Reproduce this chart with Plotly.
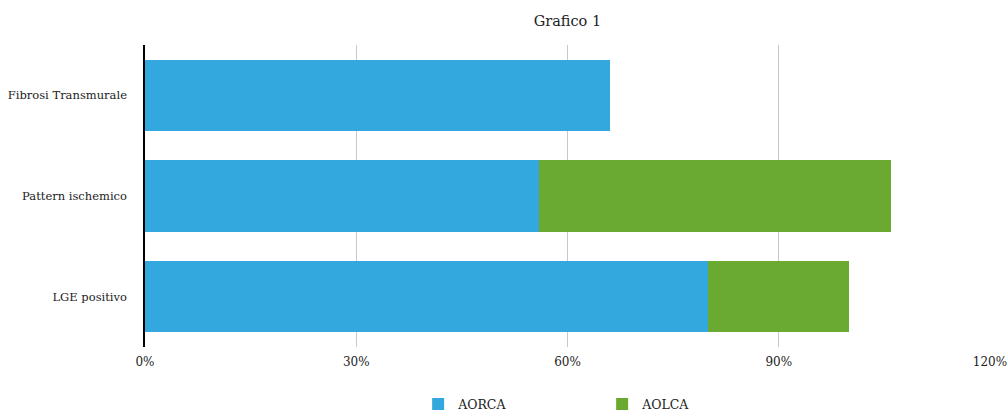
import plotly.graph_objects as go

categories = ["Fibrosi Transmurale", "Pattern ischemico", "LGE positivo"]
aorca = [66, 56, 80]
aolca = [0, 50, 20]
x_ticks = [0, 30, 60, 90, 120]
x_tick_labels = ["0%", "30%", "60%", "90%", "120%"]

font_family = "DejaVu Serif"

fig = go.Figure()
fig.add_trace(go.Bar(
    y=categories, x=aorca, name="AORCA", orientation="h",
    marker=dict(color="#33A8DE", line=dict(width=0)),
))
fig.add_trace(go.Bar(
    y=categories, x=aolca, name="AOLCA", orientation="h",
    marker=dict(color="#6AAA30", line=dict(width=0)),
))

fig.update_layout(
    barmode="stack",
    bargap=0.29,
    width=1007, height=412,
    margin=dict(l=145, r=17, t=45, b=65, autoexpand=False),
    paper_bgcolor="white", plot_bgcolor="white",
    font=dict(family=font_family, size=11.5, color="#222222"),
    title=dict(text="Grafico 1", x=0.5635, xanchor="center", y=0.95, yanchor="middle",
               font=dict(family=font_family, size=14.5, color="#222222")),
    legend=dict(orientation="h", x=0.541, xanchor="center", y=-0.19, yanchor="middle",
                traceorder="normal",
                entrywidth=139, font=dict(family=font_family, size=12.5),
                itemwidth=30),
    showlegend=True,
)
fig.update_xaxes(
    range=[0, 120], tickvals=x_ticks, ticktext=x_tick_labels,
    showgrid=True, gridcolor="#c8c8c8", gridwidth=1,
    zeroline=False, showline=False, ticks="", automargin=False,
    ticklabeloverflow="allow", tickfont=dict(size=12), ticklabelstandoff=6,
)
fig.update_yaxes(
    categoryorder="array", categoryarray=categories, autorange="reversed",
    showgrid=False, zeroline=False, showline=True, linecolor="black", linewidth=1.5,
    ticks="", ticklabelstandoff=14, automargin=False,
)

fig.write_html("out.html")
